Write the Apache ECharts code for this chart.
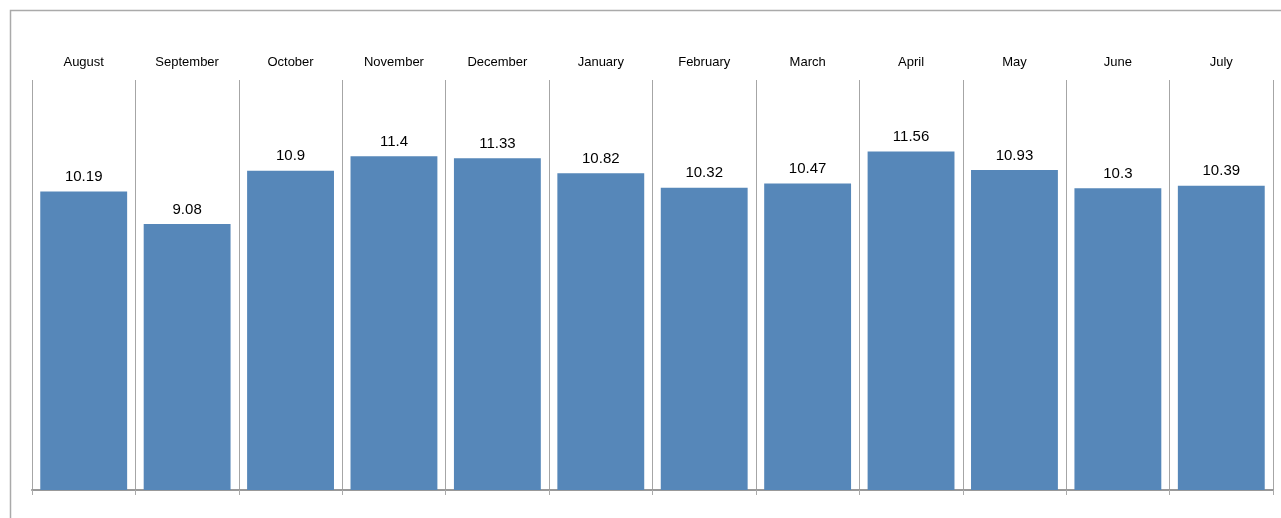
<!DOCTYPE html>
<html><head><meta charset="utf-8">
<script src="https://cdn.jsdelivr.net/npm/echarts@6/dist/echarts.min.js"></script>
<style>html,body{margin:0;padding:0;background:#fff}#c{width:1281px;height:518px}</style>
</head><body><div id="c"></div>
<script>
const categories = ["August","September","October","November","December","January","February","March","April","May","June","July"];
const values = [10.19, 9.08, 10.9, 11.4, 11.33, 10.82, 10.32, 10.47, 11.56, 10.93, 10.3, 10.39];

const chart = echarts.init(document.getElementById('c'), null, {renderer:'canvas'});
chart.setOption({
  animation: false,
  backgroundColor: '#fff',
  graphic: [{type:'rect', shape:{x:10.5,y:10.5,width:1400,height:700}, style:{fill:'none', stroke:'#aaaaaa', lineWidth:1.5}, silent:true}],
  grid: {left:32, right:8, top:80, bottom:28},
  xAxis: [{
    type:'category', data:categories, position:'top',
    axisLine:{show:false}, axisTick:{show:false},
    axisLabel:{margin:11, fontSize:13, color:'#000', fontFamily:'Liberation Sans, Arial, sans-serif', interval:0},
    splitLine:{show:true, lineStyle:{color:'#a6a6a6', width:1}}
  },{
    type:'category', data:categories, position:'bottom',
    axisLine:{show:true, lineStyle:{color:'#999', width:2}},
    axisTick:{show:true, length:5, lineStyle:{color:'#aaa', width:1}},
    axisLabel:{show:false}, splitLine:{show:false}
  }],
  yAxis: {type:'value', min:0, max:14, show:false, splitLine:{show:false}},
  series: [{
    type:'bar', data:values, xAxisIndex:0, barCategoryGap:'16%',
    itemStyle:{color:'#5687b9'},
    label:{show:true, position:'top', distance:7, fontSize:15, color:'#000', fontFamily:'Liberation Sans, Arial, sans-serif'}
  }]
});
</script></body></html>
